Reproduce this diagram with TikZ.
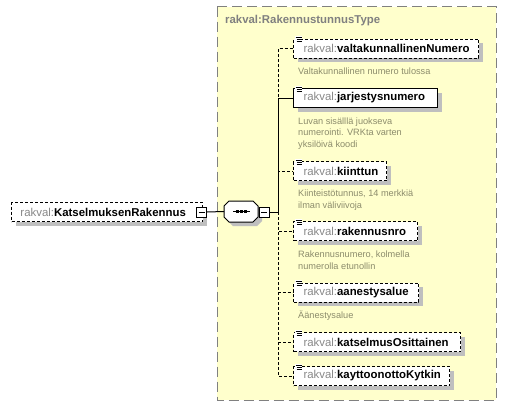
\documentclass[tikz,border=0pt]{standalone}
\usepackage{fontspec}
\setmainfont{Liberation Sans}
\usetikzlibrary{shadows,calc}
\definecolor{boxfill}{HTML}{FFFFCC}
\definecolor{boxborder}{HTML}{808080}
\definecolor{rkgray}{HTML}{888888}
\definecolor{desccol}{HTML}{8C8C6C}
\newcommand\rkname[2]{\makebox[#1][l]{\hspace*{10pt}\textcolor{rkgray}{rakval:}\textbf{#2}}}
\tikzset{
  elem/.style={draw=black, line width=1pt, fill=white, minimum height=19pt,
    inner xsep=0pt, inner ysep=0pt, anchor=west,
    font=\fontsize{11.4}{13}\selectfont,
    drop shadow={shadow xshift=4pt, shadow yshift=-4pt, fill=black!25, opacity=1}},
  optelem/.style={elem, dash pattern=on 3pt off 2pt},
  desc/.style={anchor=base west, inner sep=0pt, align=left, text=desccol,
    font=\fontsize{9.2}{11.5}\selectfont},
  minusbox/.style={draw=black, line width=1pt, fill=white, minimum width=10pt,
    minimum height=10pt, inner sep=0pt},
  conn/.style={line width=1pt, black},
  optconn/.style={conn, dash pattern=on 3pt off 2pt},
}
\newcommand\elicon[1]{%
  \fill[white] ($(#1.north west)+(2,-2.5)$) rectangle ($(#1.north west)+(9,4)$);
  \draw[line width=0.9pt] ($(#1.north west)+(2.5,-1)$) -- ($(#1.north west)+(8.5,-1)$);
  \draw[line width=0.9pt] ($(#1.north west)+(3.5,1)$) -- ($(#1.north west)+(8.5,1)$);
  \draw[line width=0.9pt] ($(#1.north west)+(3.5,3)$) -- ($(#1.north west)+(8.5,3)$);
}
\begin{document}
\begin{tikzpicture}[x=1pt,y=-1pt]
\useasboundingbox (0,0) rectangle (506,407);
% type box
\draw[fill=boxfill, draw=boxborder, line width=1pt, dash pattern=on 10pt off 5pt] (217,6.5) rectangle (496,400);
\node[anchor=base west, inner sep=0pt, text=boxborder, font=\fontsize{11.4}{13}\selectfont\bfseries] (title) at (225,23) {rakval:RakennustunnusType};

% left element
\node[optelem] (root) at (11,212) {\makebox[191pt][l]{\hspace*{9pt}\textcolor{rkgray}{rakval:}\textbf{KatselmuksenRakennus}}};
\node[minusbox] (rootm) at (201.5,212) {};
\draw[line width=1pt] ($(rootm.center)+(-3,0)$) -- ($(rootm.center)+(3,0)$);

% sequence compositor
\path[draw=black, line width=1pt, fill=white, drop shadow={shadow xshift=4pt, shadow yshift=-4pt, fill=black!25, opacity=1}]
  (229,201) -- (253,201) -- (258,206) -- (258,217) -- (253,222) -- (229,222) -- (224,217) -- (224,206) -- cycle;
\coordinate (seq) at (224,211.5);
\draw[line width=1pt] (233,211.5) -- (250,211.5);
\foreach \dx in {237.5,241.5,245.5} \fill (\dx-1.5,210) rectangle (\dx+1.5,213);
\node[minusbox] (seqm) at (264,212) {};
\draw[line width=1pt] ($(seqm.center)+(-3,0)$) -- ($(seqm.center)+(3,0)$);
\coordinate (j) at (278,212);
\draw[conn] (rootm.east) -- (seq);
\draw[conn] (seqm.east) -- (j);

% child elements
\node[optelem] (e1) at (293,48.5) {\rkname{185pt}{valtakunnallinenNumero}};
\node[elem] (e2) at (293,98) {\rkname{144pt}{jarjestysnumero}};
\node[optelem] (e3) at (293,171) {\rkname{93pt}{kiinttun}};
\node[optelem] (e4) at (293,231) {\rkname{124pt}{rakennusnro}};
\node[optelem] (e5) at (293,292.5) {\rkname{125pt}{aanestysalue}};
\node[optelem] (e6) at (293,342) {\rkname{167pt}{katselmusOsittainen}};
\node[optelem] (e7) at (293,376) {\rkname{156pt}{kayttoonottoKytkin}};
\foreach \n in {e1,e2,e3,e4,e5,e6,e7} {\elicon{\n}}

% connectors
\draw[optconn] (j) |- (e1.west);
\draw[optconn] (j) |- (e3.west);
\draw[optconn] (j) |- (e4.west);
\draw[optconn] (j) |- (e5.west);
\draw[optconn] (j) |- (e6.west);
\draw[optconn] (j) |- (e7.west);
\draw[conn] (j) |- (e2.west);

% descriptions (base anchor = baseline of the last line)
\node[desc] (d1) at (298,74.5) {Valtakunnallinen numero tulossa};
\node[desc] (d2) at (298,147) {Luvan sisälllä juokseva\\numerointi. VRKta varten\\yksilöivä koodi};
\node[desc] (d3) at (298,208) {Kiinteistötunnus, 14 merkkiä\\ilman väliviivoja};
\node[desc] (d4) at (298,269) {Rakennusnumero, kolmella\\numerolla etunollin};
\node[desc] (d5) at (298,318) {Äänestysalue};
\end{tikzpicture}
\end{document}
